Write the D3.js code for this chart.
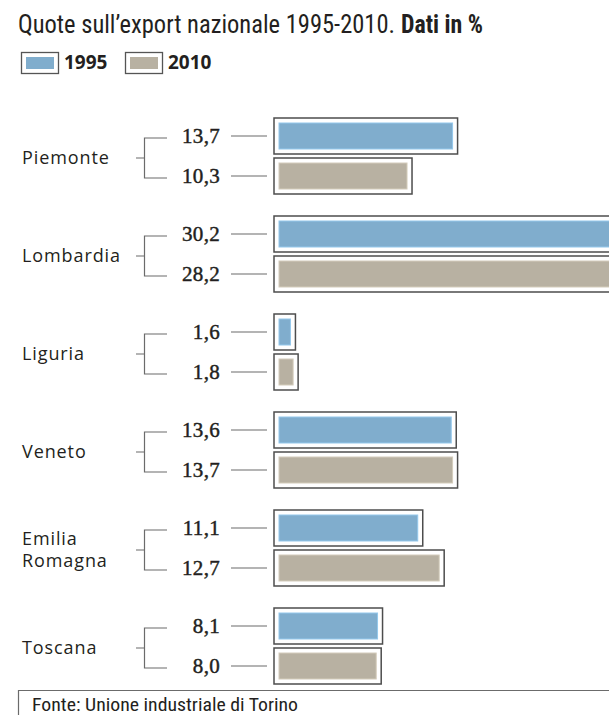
<!DOCTYPE html>
<html><head><meta charset="utf-8">
<script src="https://cdn.jsdelivr.net/npm/d3@7/dist/d3.min.js"></script>
<style>
html,body{margin:0;padding:0;background:#fff;}
svg{display:block;}
</style></head>
<body>
<script>
const regions = ["Piemonte", "Lombardia", "Liguria", "Veneto", "Emilia Romagna", "Toscana"];
const v1995 = [13.7, 30.2, 1.6, 13.6, 11.1, 8.1];
const v2010 = [10.3, 28.2, 1.8, 13.7, 12.7, 8.0];
const years = ["1995", "2010"];
const colors = ["#80adcd", "#b8b1a2"];
const titleMain = "Quote sull’export nazionale 1995-2010.";
const titleBold = "Dati in %";
const source = "Fonte: Unione industriale di Torino";

const W = 609, H = 715;
const svg = d3.select("body").append("svg").attr("width", W).attr("height", H);

const condensed = "'Liberation Sans Narrow','Arial Narrow','Roboto Condensed',sans-serif";
const sans = "'Open Sans','Noto Sans',sans-serif";
const serif = "'Liberation Serif','Times New Roman',serif";
const lineCol = "#6b6b6b";
const ink = "#231f20";

// Title
svg.append("text").attr("x", 18).attr("y", 33)
  .attr("font-family", condensed).attr("font-size", 25).attr("fill", ink)
  .text(titleMain).attr("textLength", 377).attr("lengthAdjust", "spacingAndGlyphs");
svg.append("text").attr("x", 401).attr("y", 33)
  .attr("font-family", condensed).attr("font-weight", "bold").attr("font-size", 25).attr("fill", ink)
  .text(titleBold).attr("textLength", 82).attr("lengthAdjust", "spacingAndGlyphs");

// Legend
const legX = [21, 125];
years.forEach((yr, i) => {
  const g = svg.append("g").attr("transform", `translate(${legX[i]},52)`);
  g.append("rect").attr("x", 0.5).attr("y", 0.5).attr("width", 37).attr("height", 21)
    .attr("fill", "#fff").attr("stroke", "#555").attr("stroke-width", 1.3);
  g.append("rect").attr("x", 5).attr("y", 5).attr("width", 28).attr("height", 12)
    .attr("fill", colors[i]);
  g.append("text").attr("x", 43).attr("y", 17).attr("font-family", sans)
    .attr("font-weight", "bold").attr("font-size", 19).attr("fill", ink).text(yr);
});

// Scales
const x = d3.scaleLinear().domain([0, 30]).range([0, 402]);
const x0 = 274;
const yG = d3.scaleBand().domain(regions).range([118, 118 + 98 * regions.length]).padding(0);
const yB = d3.scaleBand().domain(years).range([0, 76]).paddingInner(0.1).paddingOuter(0);
const fmt = d3.formatLocale({decimal: ",", thousands: ".", grouping: [3], currency: ["", "€"]}).format(".1f");

const data = regions.map((r, i) => ({region: r, vals: [v1995[i], v2010[i]]}));

const groups = svg.selectAll("g.grp").data(data).join("g").attr("class", "grp")
  .attr("transform", d => `translate(0,${yG(d.region)})`);

groups.each(function(d) {
  const g = d3.select(this);
  const c1 = yB(years[0]) + yB.bandwidth() / 2;
  const c2 = yB(years[1]) + yB.bandwidth() / 2;
  const mid = (c1 + c2) / 2;
  // bracket
  g.append("path")
    .attr("d", `M167,${c1 + 2}H144.5V${c2 + 2}H167M136,${mid + 2}H144.5`)
    .attr("fill", "none").attr("stroke", lineCol).attr("stroke-width", 1.2);
  // region label
  const lines = d.region.split(" ");
  const lt = g.append("text").attr("x", 22).attr("font-family", sans).attr("font-size", 18)
    .attr("letter-spacing", 0.9).attr("fill", ink);
  const lh = 22;
  lines.forEach((ln, k) => {
    lt.append("tspan").attr("x", 22)
      .attr("y", mid + 8 - (lines.length - 1) * lh / 2 + k * lh).text(ln);
  });
  years.forEach((yr, i) => {
    const v = d.vals[i];
    const top = yB(yr);
    const cy = top + yB.bandwidth() / 2;
    g.append("text").attr("x", 220).attr("y", cy + 7).attr("text-anchor", "end")
      .attr("font-family", serif).attr("font-size", 21)
      .attr("stroke", ink).attr("stroke-width", 0.45)
      .attr("letter-spacing", 0.3).attr("fill", ink).text(fmt(v));
    g.append("line").attr("x1", 231).attr("x2", 267).attr("y1", cy).attr("y2", cy)
      .attr("stroke", lineCol).attr("stroke-width", 1.2);
    const w = x(v);
    g.append("rect").attr("x", x0).attr("y", top).attr("width", w).attr("height", yB.bandwidth())
      .attr("fill", "#fff").attr("stroke", "#4d4d4d").attr("stroke-width", 1.5);
    g.append("rect").attr("x", x0 + 5).attr("y", top + 5).attr("width", Math.max(0, w - 10))
      .attr("height", yB.bandwidth() - 10).attr("fill", colors[i])
      .attr("stroke", d3.color(colors[i]).brighter(0.4)).attr("stroke-width", 1);
  });
});

// Footer
svg.append("path").attr("d", `M18.5,${H}V690.5H${W}`).attr("fill", "none")
  .attr("stroke", lineCol).attr("stroke-width", 1.2);
svg.append("text").attr("x", 32).attr("y", 711).attr("font-family", condensed)
  .attr("font-size", 18).attr("fill", ink).text(source)
  .attr("textLength", 266).attr("lengthAdjust", "spacingAndGlyphs");
</script>
</body></html>
